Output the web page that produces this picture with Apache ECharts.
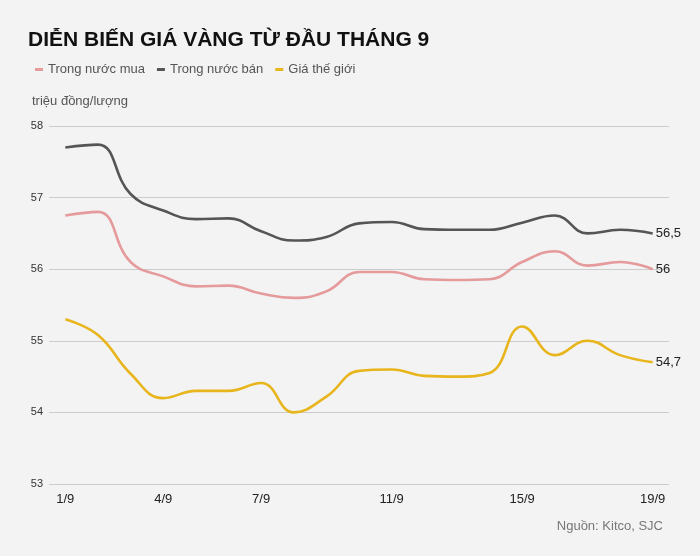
<!DOCTYPE html>
<html>
<head>
<meta charset="utf-8">
<script src="https://cdn.jsdelivr.net/npm/echarts@6/dist/echarts.min.js"></script>
<style>
  html, body { margin: 0; padding: 0; background: #f3f3f3; }
  #main { width: 700px; height: 556px; }
</style>
</head>
<body>
<div id="main"></div>
<script>
// ngày trong tháng 9
var days = ['1/9','2/9','3/9','4/9','5/9','6/9','7/9','8/9','9/9','10/9',
            '11/9','12/9','13/9','14/9','15/9','16/9','17/9','18/9','19/9'];
var shownLabels = ['1/9','4/9','7/9','11/9','15/9','19/9'];

// triệu đồng/lượng
var muaTrongNuoc = [56.75, 56.8, 56.1, 55.9, 55.76, 55.77, 55.66, 55.6, 55.69, 55.96,
                    55.96, 55.86, 55.85, 55.86, 56.1, 56.25, 56.05, 56.1, 56.0];
var banTrongNuoc = [57.7, 57.74, 57.05, 56.82, 56.7, 56.71, 56.53, 56.4, 56.45, 56.64,
                    56.66, 56.56, 56.55, 56.55, 56.65, 56.75, 56.5, 56.55, 56.5];
var giaTheGioi   = [55.3, 55.08, 54.54, 54.2, 54.3, 54.3, 54.41, 54.0, 54.22, 54.58,
                    54.6, 54.51, 54.5, 54.55, 55.2, 54.8, 55.0, 54.8, 54.7];

var myChart = echarts.init(document.getElementById('main'));

function lineSeries(name, color, data) {
    return {
        name: name,
        type: 'line',
        data: data,
        smooth: 0.45,
        symbol: 'none',
        lineStyle: { color: color, width: 2.6 },
        itemStyle: { color: color },
        endLabel: {
            show: true,
            color: '#222',
            fontSize: 13,
            distance: 3,
            formatter: function (p) {
                return String(p.value).replace('.', ',');
            }
        }
    };
}

var option = {
    backgroundColor: '#f3f3f3',
    textStyle: { fontFamily: 'Liberation Sans, Arial, sans-serif' },
    animation: false,
    title: [
        {
            text: 'DIỄN BIẾN GIÁ VÀNG TỪ ĐẦU THÁNG 9',
            left: 23, top: 25,
            textStyle: { fontSize: 21, fontWeight: 'bold', color: '#111' }
        },
        {
            text: 'triệu đồng/lượng',
            left: 27, top: 90,
            textStyle: { fontSize: 13, fontWeight: 'normal', color: '#555' }
        },
        {
            text: 'Nguồn: Kitco, SJC',
            right: 32, top: 515,
            textStyle: { fontSize: 13, fontWeight: 'normal', color: '#777' }
        }
    ],
    legend: {
        left: 30, top: 58,
        icon: 'rect',
        itemWidth: 8, itemHeight: 3,
        itemGap: 12,
        itemTextGap: 7,
        textStyle: { fontSize: 13, color: '#555' },
        data: ['Trong nước mua', 'Trong nước bán', 'Giá thế giới']
    },
    grid: { left: 49, right: 31, top: 126, bottom: 72 },
    xAxis: {
        type: 'category',
        boundaryGap: true,
        data: days,
        axisLine: { show: false },
        axisTick: { show: false },
        axisLabel: {
            color: '#222', fontSize: 13, margin: 9,
            interval: function (i, v) { return shownLabels.indexOf(v) >= 0; }
        }
    },
    yAxis: {
        type: 'value',
        min: 53, max: 58, interval: 1,
        axisLine: { show: false },
        axisTick: { show: false },
        axisLabel: { color: '#333', fontSize: 11, margin: 6 },
        splitLine: { lineStyle: { color: '#cccccc', width: 1 } }
    },
    series: [
        lineSeries('Trong nước mua', '#e59a9b', muaTrongNuoc),
        lineSeries('Trong nước bán', '#555555', banTrongNuoc),
        lineSeries('Giá thế giới', '#e8b51c', giaTheGioi)
    ]
};
myChart.setOption(option);
</script>
</body>
</html>
